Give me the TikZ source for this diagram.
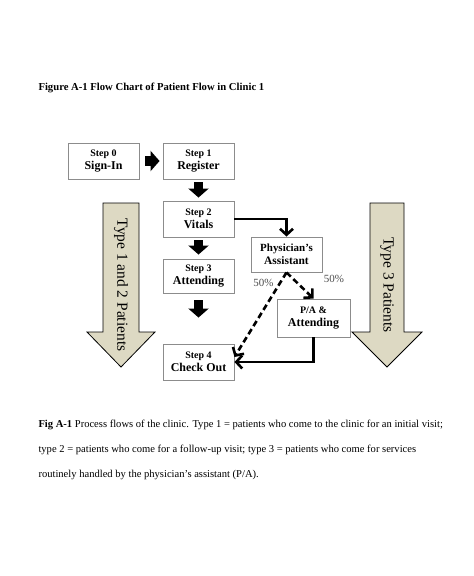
\documentclass[tikz,border=0pt]{standalone}
\usepackage{fontspec}
\setmainfont{Liberation Serif}
\usetikzlibrary{arrows.meta}
\definecolor{typefill}{HTML}{DDD9C3}
\newcommand\steplabel{\bfseries\fontsize{10}{13}\selectfont}

\begin{document}
\begin{tikzpicture}[x=1bp,y=-1bp,
        stepbox/.style={draw=black!45,line width=0.9bp,fill=white,minimum width=71bp,minimum height=36bp,
            inner sep=1bp,align=center,font=\bfseries\fontsize{12}{13}\selectfont},
        blockarrow/.style={line width=9bp,-{Triangle[width=20bp,length=9bp]}},
        flowline/.style={line width=2.6bp,-{Straight Barb[length=6bp,width=13bp]}},
        halfway/.style={flowline,dash pattern=on 6bp off 3.5bp},
        typearrow/.style={draw=black,line width=0.8bp,fill=typefill},
        typelabel/.style={rotate=-90,font=\fontsize{15.5}{17}\selectfont},
        share/.style={text=black!70,font=\fontsize{11}{12}\selectfont}]
        \useasboundingbox (0,0) rectangle (474,576);
        \node [anchor=base west,font=\bfseries\fontsize{10.7}{12}\selectfont] (title) at (35,90.5) {Figure A-1 Flow Chart of Patient Flow in Clinic 1};

        \draw [typearrow] (103,203) -- (139,203) -- (139,332) -- (155,332) -- (121,367) -- (87,332) -- (103,332) -- cycle;
        \node [typelabel] (typeonetwo) at (121,285) {Type 1 and 2 Patients};
        \draw [typearrow] (370,203) -- (404,203) -- (404,332) -- (422,332) -- (387,367) -- (352,332) -- (370,332) -- cycle;
        \node [typelabel] (typethree) at (387,285) {Type 3 Patients};

        \node [stepbox] (signin) at (103.5,161) {{\steplabel Step 0}\\Sign-In};
        \node [stepbox] (register) at (198.5,161) {{\steplabel Step 1}\\Register};
        \node [stepbox] (vitals) at (198.5,219) {{\steplabel Step 2}\\Vitals};
        \node [stepbox,minimum height=34bp] (attending) at (198.5,276) {{\steplabel Step 3}\\Attending};
        \node [stepbox] (checkout) at (198.5,362) {{\steplabel Step 4}\\Check Out};
        \node [stepbox,minimum height=35bp] (pa) at (286.5,254.5) {{\fontsize{11}{13}\selectfont Physician's}\\{\fontsize{11.5}{13}\selectfont Assistant}};
        \node [stepbox,minimum width=73bp,minimum height=38bp] (paatt) at (313.5,318) {{\steplabel P/A \&}\\Attending};

        \draw [blockarrow,shorten <=6bp,shorten >=3bp] (signin) -- (register);
        \draw [blockarrow,shorten <=3bp,shorten >=3bp] (register) -- (vitals);
        \draw [blockarrow,shorten <=3bp,shorten >=4bp] (vitals) -- (attending);
        \draw [blockarrow,shorten <=7bp,shorten >=26bp] (attending) -- (checkout);

        \draw [flowline] (vitals.east) -| (pa.north);
        \draw [halfway] (pa.south) -- (paatt.north);
        \draw [halfway] (pa.south) -- ([yshift=5bp]checkout.east);
        \draw [flowline] (paatt.south) |- (checkout.east);
        \node [share] (shareleft) at (263.5,283) {50\%};
        \node [share] (shareright) at (334,279) {50\%};

        \node [anchor=base west,font=\fontsize{10.6}{12}\selectfont] (capone) at (35,427) {\textbf{Fig A-1} Process flows of the clinic. Type 1 = patients who come to the clinic for an initial visit;};
        \node [anchor=base west,font=\fontsize{10.6}{12}\selectfont] (captwo) at (35,452) {type 2 = patients who come for a follow-up visit; type 3 = patients who come for services};
        \node [anchor=base west,font=\fontsize{10.6}{12}\selectfont] (capthree) at (35,477) {routinely handled by the physician's assistant (P/A).};
\end{tikzpicture}
\end{document}
